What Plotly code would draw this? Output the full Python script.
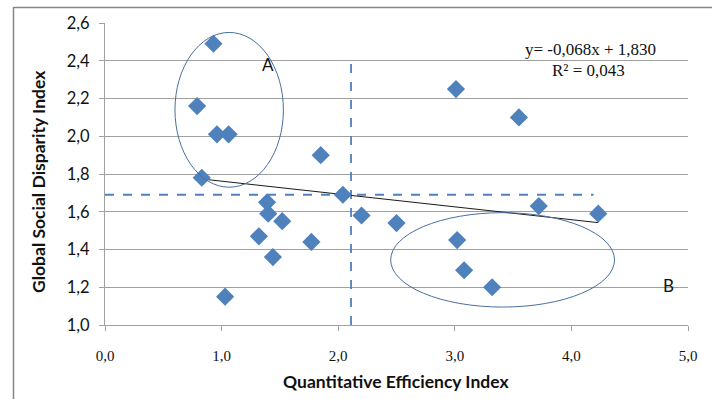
import plotly.graph_objects as go

# Data
efficiency = [0.93, 0.79, 0.96, 1.06, 0.83, 1.85, 2.04, 1.39, 1.40, 1.52, 1.32, 1.44,
              1.77, 1.03, 2.20, 2.50, 3.01, 3.55, 3.72, 4.23, 3.02, 3.08, 3.32]
disparity = [2.49, 2.16, 2.01, 2.01, 1.78, 1.90, 1.69, 1.65, 1.59, 1.55, 1.47, 1.36,
             1.44, 1.15, 1.58, 1.54, 2.25, 2.10, 1.63, 1.59, 1.45, 1.29, 1.20]

trend_slope = -0.068
trend_intercept = 1.830
trend_r2 = 0.043

ref_x = 2.11          # vertical dashed reference
ref_x_span = [1.0, 2.4]
ref_y = 1.69          # horizontal dashed reference
ref_y_span = [0.0, 4.19]

ellipse_a = dict(x0=0.60, x1=1.53, y0=1.73, y1=2.55)
ellipse_b = dict(x0=2.45, x1=4.37, y0=1.095, y1=1.595)

x_ticks = [0, 1, 2, 3, 4, 5]
x_tick_labels = ["0,0", "1,0", "2,0", "3,0", "4,0", "5,0"]
y_ticks = [1.0, 1.2, 1.4, 1.6, 1.8, 2.0, 2.2, 2.4, 2.6]
y_tick_labels = ["1,0", "1,2", "1,4", "1,6", "1,8", "2,0", "2,2", "2,4", "2,6"]

BLUE = "#4F81BD"
GRID = "#A0A0A0"

fig = go.Figure()

# dashed reference lines
fig.add_trace(go.Scatter(x=[ref_x, ref_x], y=ref_x_span, mode="lines",
                         line=dict(color=BLUE, width=1.8, dash="dash"),
                         hoverinfo="skip", showlegend=False))
fig.add_trace(go.Scatter(x=ref_y_span, y=[ref_y, ref_y], mode="lines",
                         line=dict(color=BLUE, width=1.8, dash="dash"),
                         hoverinfo="skip", showlegend=False))

# trend line
tx = [min(efficiency), max(efficiency)]
ty = [trend_slope * v + trend_intercept for v in tx]
fig.add_trace(go.Scatter(x=tx, y=ty, mode="lines",
                         line=dict(color="#1a1a1a", width=1),
                         hoverinfo="skip", showlegend=False))

# points
fig.add_trace(go.Scatter(x=efficiency, y=disparity, mode="markers",
                         marker=dict(symbol="diamond", size=14, color=BLUE,
                                     line=dict(width=0)),
                         showlegend=False))

shapes = []
for e in (ellipse_a, ellipse_b):
    shapes.append(dict(type="circle", xref="x", yref="y", **e,
                       line=dict(color="#4A6E9E", width=1), layer="above"))

# outer frame (left and top)
shapes.append(dict(type="line", xref="paper", yref="paper",
                   x0=(13.5 - 105) / 583, x1=(13.5 - 105) / 583,
                   y0=(325 - 7) / 302, y1=(325 - 405) / 302,
                   line=dict(color="#868686", width=1.5)))
shapes.append(dict(type="line", xref="paper", yref="paper",
                   x0=(13.5 - 105) / 583, x1=(720 - 105) / 583,
                   y0=(325 - 7.5) / 302, y1=(325 - 7.5) / 302,
                   line=dict(color="#868686", width=1.5)))

annotations = [
    dict(x=1.40, y=2.38, xref="x", yref="y", text="A", showarrow=False,
         xanchor="center", yanchor="middle",
         font=dict(family="Lato", size=17, color="#111")),
    dict(x=4.83, y=1.21, xref="x", yref="y", text="B", showarrow=False,
         xanchor="center", yanchor="middle",
         font=dict(family="Lato", size=17, color="#111")),
    dict(x=4.16, y=2.457, xref="x", yref="y",
         text="y= -0,068x + 1,830", showarrow=False,
         xanchor="center", yanchor="middle",
         font=dict(family="Liberation Serif", size=17, color="#111")),
    dict(x=4.15, y=2.351, xref="x", yref="y",
         text="R² = 0,043", showarrow=False,
         xanchor="center", yanchor="middle",
         font=dict(family="Liberation Serif", size=17, color="#111")),
    dict(x=(396 - 105) / 583, y=(325 - 381) / 302, xref="paper", yref="paper",
         text="<b>Quantitative Efficiency Index</b>", showarrow=False,
         xanchor="center", yanchor="middle",
         font=dict(family="Lato", size=17.5, color="#111")),
    dict(x=(38 - 105) / 583, y=(325 - 182) / 302, xref="paper", yref="paper",
         text="<b>Global Social Disparity Index</b>", showarrow=False, textangle=-90,
         xanchor="center", yanchor="middle",
         font=dict(family="Lato", size=17.5, color="#111")),
]

fig.update_layout(
    width=712, height=399,
    margin=dict(l=105, r=24, t=23, b=74),
    paper_bgcolor="white", plot_bgcolor="white",
    shapes=shapes, annotations=annotations,
    xaxis=dict(range=[0, 5], tickvals=x_ticks, ticktext=x_tick_labels,
               showgrid=False, zeroline=False, showline=True, linecolor=GRID,
               linewidth=1.2, ticks="outside", ticklen=5, tickcolor=GRID,
               ticklabelstandoff=12,
               tickfont=dict(family="Liberation Serif", size=15, color="#111")),
    yaxis=dict(range=[1.0, 2.6], tickvals=y_ticks, ticktext=y_tick_labels,
               showgrid=True, gridcolor=GRID, gridwidth=1.2, zeroline=False,
               showline=True, linecolor=GRID, linewidth=1.2,
               ticks="outside", ticklen=5, tickcolor=GRID, ticklabelstandoff=6,
               tickfont=dict(family="Lato", size=16.5, color="#111")),
)

fig.write_html("out.html")
